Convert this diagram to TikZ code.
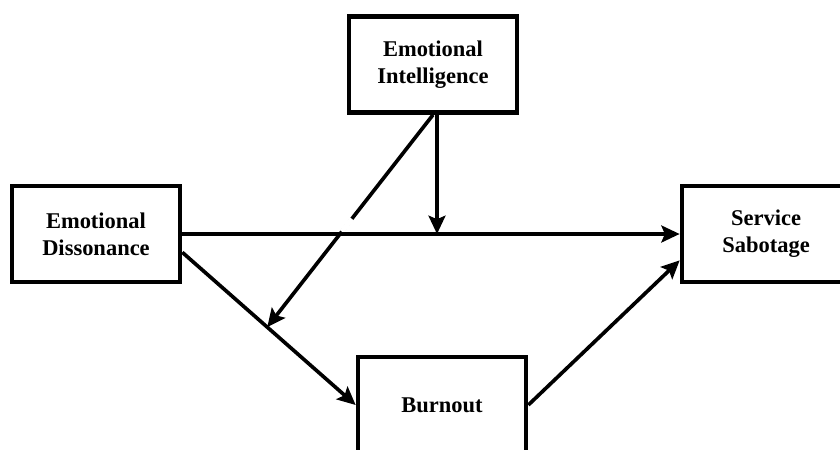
\documentclass[tikz,border=0pt]{standalone}
\usepackage{fontspec}
\setmainfont{Liberation Serif}
\usetikzlibrary{arrows.meta,positioning}

\begin{document}
\begin{tikzpicture}[node distance=5cm,on grid,
    link/.style={line width=2.6pt,-{Stealth[length=13pt,width=12pt,inset=2.5pt]}}]
  \tikzstyle{nodeV}=[rectangle,draw=black,line width=3.3pt,fill=white,minimum width=4.2cm,
    minimum height=2.4cm,align=center,font=\bfseries\fontsize{16}{19}\selectfont]
  \path[use as bounding box,clip] (0,0) rectangle (21,-11.25);
  % Variables
  \node[nodeV] (ed) at (2.4,-5.85) {Emotional\\Dissonance};
  \node[nodeV] (ss) [right=16.75cm of ed] {Service\\Sabotage};
  \node[nodeV] (ei) [above right=4.2375cm and 8.425cm of ed] {Emotional\\Intelligence};
  \node[nodeV] (bo) [below right=4.275cm and 8.65cm of ed] {Burnout};
  \coordinate (eib) at ([xshift=1mm]ei.south);
  % Paths
  \draw[link] (ed.-12) -- coordinate[pos=0.49] (mod) (bo.west);
  \draw[link] (bo.east) -- (ss.197);
  \draw[link] (ei.south) -- (mod) coordinate[pos=0.49] (g1) coordinate[pos=0.55] (g2);
  \draw[white,line width=3.6pt] (g1) -- (g2);
  \draw[link] (ed) -- (ss);
  \draw[link] (eib) -- (eib |- ed);
\end{tikzpicture}
\end{document}
